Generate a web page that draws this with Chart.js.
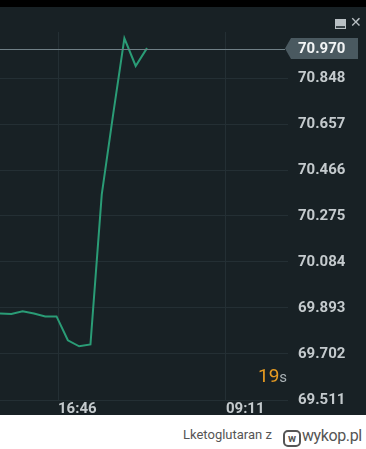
<!DOCTYPE html>
<html>
<head>
<meta charset="utf-8">
<script src="https://cdn.jsdelivr.net/npm/chart.js@4"></script>
<style>
  html,body{margin:0;padding:0;background:#fff;width:366px;height:449px;overflow:hidden;font-family:Roboto,"Noto Sans",sans-serif;}
  #topbar{position:absolute;left:0;top:0;width:366px;height:7px;background:#000;}
  #panel{position:absolute;left:0;top:7px;width:366px;height:408px;background:#182125;overflow:hidden;}
  #wrap{position:absolute;left:0;top:0;width:366px;height:408px;}
  #wrap canvas{display:block;}
  #timer{position:absolute;left:258px;top:357px;font-size:19px;color:#e69b22;font-family:Roboto,sans-serif;}
  #timer span{color:#aab2b6;font-size:15px;}
  #minbox{position:absolute;left:335px;top:12px;width:11px;height:10px;background:#b9c0c4;}
  #minbox div{position:absolute;left:1px;bottom:1px;width:9px;height:2px;background:#3a4448;}
  #closex{position:absolute;left:350px;top:7px;font-size:14px;color:#b9c0c4;font-family:"DejaVu Sans",sans-serif;}
  #footer{position:absolute;left:0;top:415px;width:366px;height:34px;background:#fff;}
  #user{position:absolute;left:183px;top:12px;font-size:13px;color:#555;font-family:Roboto,sans-serif;white-space:nowrap;}
  #logo{position:absolute;left:283px;top:15px;box-sizing:border-box;width:18px;height:17px;border:2px solid #555;border-radius:5px;font-size:11px;line-height:13px;text-align:center;color:#555;font-weight:bold;font-family:Roboto,sans-serif;}
  #wyk{position:absolute;left:302px;top:11px;font-size:16px;letter-spacing:-0.4px;color:#555;font-family:Roboto,sans-serif;white-space:nowrap;}
</style>
</head>
<body>
<div id="topbar"></div>
<div id="panel">
  <div id="wrap"><canvas id="c" width="366" height="408"></canvas></div>
  <div id="timer">19<span>s</span></div>
  <div id="minbox"><div></div></div>
  <div id="closex">✕</div>
</div>
<div id="footer">
  <div id="user">Lketoglutaran z</div>
  <div id="logo">w</div>
  <div id="wyk">wykop.pl</div>
</div>
<script>
// ---- data ----
const prices = [69.870, 69.868, 69.879, 69.870, 69.858, 69.858, 69.759, 69.734, 69.742, 70.365, 70.695, 71.013, 70.898, 70.972];
const currentPrice = 70.970;
const yTicks = [69.511, 69.702, 69.893, 70.084, 70.275, 70.466, 70.657, 70.848];
const xTickPos = [5.13, 19.98];
const xTickLabels = ['16:46', '09:11'];
const yMin = 69.511, yMax = 71.039;
const xMax = 25.47;

const points = prices.map((v, i) => ({x: i, y: v}));

const priceTag = {
  id: 'priceTag',
  afterDatasetsDraw(chart) {
    const ctx = chart.ctx, y = chart.scales.y.getPixelForValue(currentPrice);
    const ca = chart.chartArea;
    ctx.save();
    ctx.strokeStyle = '#6f7f86';
    ctx.lineWidth = 1;
    ctx.beginPath();
    ctx.moveTo(ca.left, Math.round(y) + 0.5);
    ctx.lineTo(285, Math.round(y) + 0.5);
    ctx.stroke();
    ctx.fillStyle = '#4a5960';
    ctx.beginPath();
    ctx.moveTo(285, y);
    ctx.lineTo(291, y - 10.5);
    ctx.lineTo(358, y - 10.5);
    ctx.lineTo(358, y + 10.5);
    ctx.lineTo(291, y + 10.5);
    ctx.closePath();
    ctx.fill();
    ctx.fillStyle = '#f2f4f5';
    ctx.font = 'bold 15px Roboto';
    ctx.textAlign = 'left';
    ctx.textBaseline = 'middle';
    ctx.fillText(currentPrice.toFixed(3), 298, y + 1);
    ctx.restore();
  }
};

new Chart(document.getElementById('c'), {
  type: 'line',
  data: {
    datasets: [{
      data: points,
      borderColor: '#2a9c76',
      borderWidth: 2,
      pointRadius: 0,
      tension: 0,
      fill: false
    }]
  },
  options: {
    responsive: false,
    animation: false,
    devicePixelRatio: 1,
    layout: {padding: {top: 25, left: 0, right: 0, bottom: 0}},
    plugins: {legend: {display: false}, tooltip: {enabled: false}},
    scales: {
      x: {
        type: 'linear',
        min: 0,
        max: xMax,
        afterBuildTicks(s) { s.ticks = xTickPos.map(v => ({value: v})); },
        afterFit(s) { s.height = 15; },
        ticks: {
          align: 'start',
          padding: 0,
          maxRotation: 0,
          autoSkip: false,
          color: '#c4cacd',
          font: {family: 'Roboto', size: 15, weight: 'bold'},
          callback: (v, i) => xTickLabels[i]
        },
        grid: {color: '#242f34', lineWidth: 1, drawTicks: false},
        border: {display: false}
      },
      y: {
        position: 'right',
        min: yMin,
        max: yMax,
        afterBuildTicks(s) { s.ticks = yTicks.map(v => ({value: v})); },
        afterFit(s) { s.width = 78; },
        ticks: {
          padding: 0,
          color: '#c4cacd',
          font: {family: 'Roboto', size: 15, weight: 'bold'},
          callback: v => v.toFixed(3)
        },
        grid: {color: '#242f34', lineWidth: 1, drawTicks: true, tickLength: 10, tickColor: 'rgba(0,0,0,0)'},
        border: {display: false}
      }
    }
  },
  plugins: [priceTag]
});
</script>
</body>
</html>
